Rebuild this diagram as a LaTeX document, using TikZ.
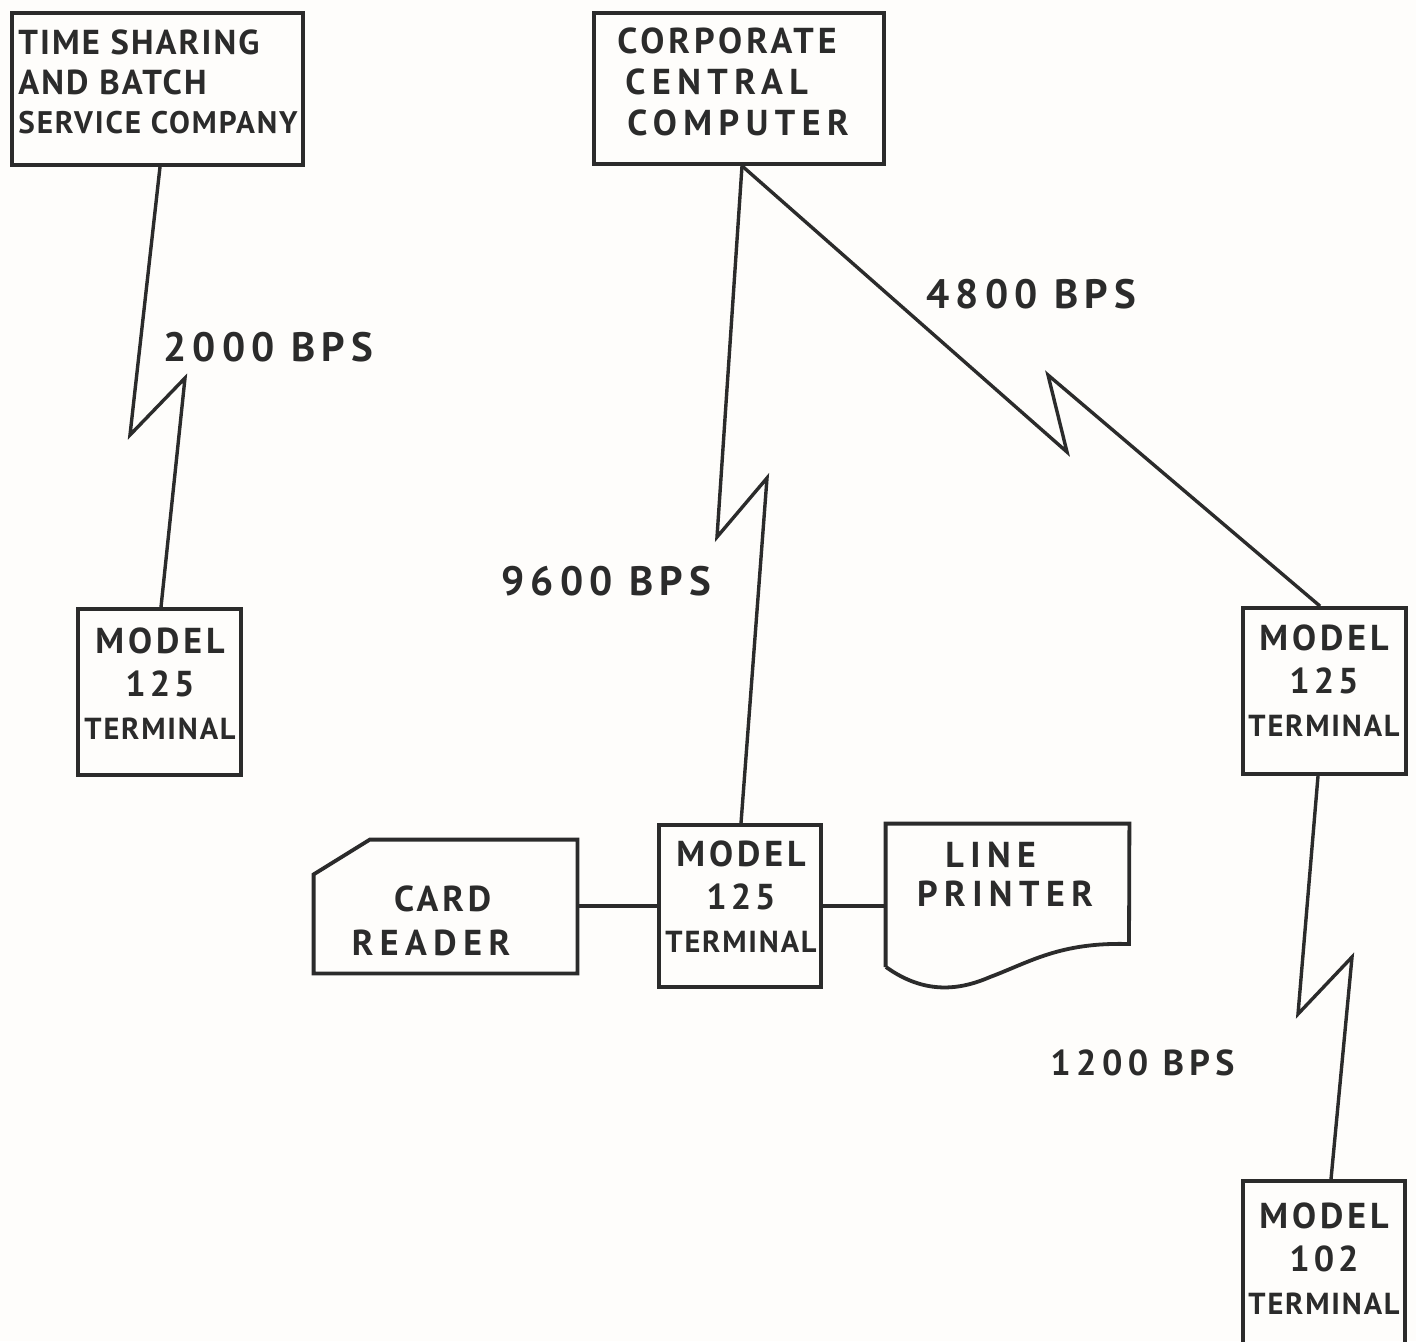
\documentclass[tikz,border=0pt]{standalone}
\usepackage{fontspec}
\setmainfont{PT Sans}
\usetikzlibrary{calc}
\definecolor{ink}{HTML}{2B2B2B}
\definecolor{paper}{HTML}{FEFDFB}
\newfontfamily\handa[LetterSpace=6]{PT Sans Bold}
\newfontfamily\handb[LetterSpace=11]{PT Sans Bold}
\newfontfamily\handc[LetterSpace=18]{PT Sans Bold}
\newfontfamily\handd[LetterSpace=15]{PT Sans Bold}
\tikzset{
  wire/.style={draw=ink,line width=1.7pt,line join=miter},
  boxed/.style={draw=ink,line width=1.9pt,inner sep=0pt},
  ghost/.style={inner sep=0pt,align=center,text=ink},
  modeltext/.style={ghost,font=\handb\fontsize{18}{21.5}\selectfont},
  rate/.style={inner sep=0pt,text=ink,font=\handd\fontsize{20.5}{24}\selectfont},
}
\newcommand{\termlabel}[2]{MODEL\\#1\\{\handa\fontsize{15.2}{21.5}\selectfont #2}}
\newcommand{\bx}[7]{% name x1 y1 x2 y2 style text
  \node[#6,minimum width={(#4-#2)*0.5pt},minimum height={(#5-#3)*0.5pt}] (#1) at ({(#2+#4)/2},{(#3+#5)/2}) {#7};}
\begin{document}
\begin{tikzpicture}[x=0.5pt,y=-0.5pt]
\useasboundingbox[fill=paper] (0,0) rectangle (1416,1341);
\clip (0,0) rectangle (1416,1341);
% boxes
\bx{ts}{12}{13}{303}{165}{boxed}{}
\node[ghost,anchor=west,align=left,font=\handa\fontsize{17.3}{19.6}\selectfont] (tstext) at (18,82) {TIME SHARING\\AND BATCH\\{\fontsize{15.6}{19.6}\selectfont SERVICE COMPANY}};
\bx{cc}{594}{13}{884}{164}{boxed}{}
\node[ghost,anchor=west,align=left,font=\handb\fontsize{18}{20.5}\selectfont] (cctext) at (617,82) {CORPORATE\\\hspace*{4pt}{\handc CENTRAL}\\\hspace*{5pt}{\handc COMPUTER}};
\bx{ta}{78}{609}{241}{775}{boxed}{}
\node[modeltext] (tatext) at (160,684) {\termlabel{125}{TERMINAL}};
\bx{tb}{659}{825}{821}{987}{boxed}{}
\node[modeltext] (tbtext) at (741,897) {\termlabel{125}{TERMINAL}};
\bx{tc}{1243}{608}{1406}{774}{boxed}{}
\node[modeltext] (tctext) at (1324,681) {\termlabel{125}{TERMINAL}};
\bx{td}{1243}{1181}{1405}{1360}{boxed}{}
\node[modeltext] (tdtext) at (1324,1259) {\termlabel{102}{TERMINAL}};
% card reader and printer
\bx{card}{314}{840}{577}{973}{ghost}{}
\node[ghost,font=\handc\fontsize{18}{22}\selectfont] (cardtext) at (431,921) {\hspace*{0.65em}{\handb CARD}\\READER};
\draw[wire,line width=1.9pt] (card.south west) -- ($(card.south west)!0.74!(card.north west)$) -- ($(card.north west)!0.213!(card.north east)$) -- (card.north east) -- (card.south east) -- cycle;
\bx{lp}{886}{824}{1129}{988}{ghost}{}
\node[ghost,font=\handc\fontsize{18}{19.5}\selectfont] (lptext) at (1005,874) {\hspace*{-0.8em}LINE\\PRINTER};
\draw[wire,line width=1.9pt] (lp.west |- 0,967) -- (lp.north west) -- (lp.north east) -- (1129,944)
  .. controls (1060,942) and (1030,962) .. (990,977)
  .. controls (960,990) and (925,995) .. (886,967);
% kink points
\coordinate (k1) at (130,435); \coordinate (k2) at (185,378);
\coordinate (s1) at (160,165);  \coordinate (e1) at (161,609);
\coordinate (k3) at (717,537); \coordinate (k4) at (767,478);
\coordinate (s2) at (742,164);  \coordinate (e2) at (741,825);
\coordinate (k5) at (1067,452); \coordinate (k6) at (1048,375);
\coordinate (s3) at (742,164);  \coordinate (e3) at (1320,608);
\coordinate (k7) at (1298,1014); \coordinate (k8) at (1352,957);
\coordinate (s4) at (1318,774); \coordinate (e4) at (1331,1181);
% connectors
\draw[wire] (ts.south -| s1) -- (k1) -- (k2) -- (ta.north -| e1);
\draw[wire] (cc.south -| s2) -- (k3) -- (k4) -- (tb.north -| e2);
\draw[wire] (cc.south -| s3) -- (k5) -- (k6) -- (tc.north -| e3);
\draw[wire] (tc.south -| s4) -- (k7) -- (k8) -- (td.north -| e4);
\draw[wire] (card.east |- tb.west) -- (tb.west);
\draw[wire] (tb.east) -- (lp.west |- tb.east);
% rates
\node[rate,anchor=west] (r1) at (163,347) {2000 BPS};
\node[rate,anchor=west] (r2) at (926,294) {4800 BPS};
\node[rate,anchor=west] (r3) at (501,581) {9600 BPS};
\node[rate,anchor=west,font=\handd\fontsize{18}{24}\selectfont] (r4) at (1050,1063) {1200 BPS};
\end{tikzpicture}
\end{document}
